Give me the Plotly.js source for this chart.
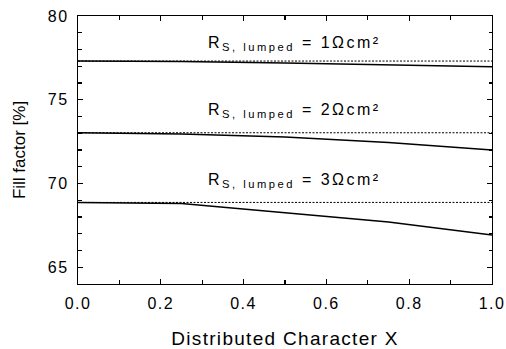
<!DOCTYPE html>
<html>
<head>
<meta charset="utf-8">
<script src="https://cdn.plot.ly/plotly-3.0.1.min.js"></script>
<style>
  html, body { margin: 0; padding: 0; background: #fff; }
  #chart { width: 506px; height: 349px; }
  .xtick text, .ytick text { letter-spacing: 1.5px; }
  .xtitle { letter-spacing: 1.3px; }
</style>
</head>
<body>
<div id="chart"></div>
<script>
// Data
const distributedX = [0, 0.25, 0.5, 0.75, 1.0];
const ffRs1 = [77.31, 77.28, 77.20, 77.10, 76.97];
const ffRs2 = [73.03, 72.95, 72.78, 72.45, 72.00];
const ffRs3 = [68.87, 68.80, 68.25, 67.70, 66.93];
const lumpedX = [0, 1];
const lumpedFF = [77.31, 73.03, 68.87];
const lumpedValues = ['1', '2', '3'];
const xTickVals = [0, 0.2, 0.4, 0.6, 0.8, 1.0];
const xTickText = ['0.0', '0.2', '0.4', '0.6', '0.8', '1.0'];
const yTickVals = [65, 70, 75, 80];

const fontFam = 'Liberation Sans, Arial, sans-serif';

const traces = [];
[ffRs1, ffRs2, ffRs3].forEach((ys) => {
  traces.push({
    x: distributedX, y: ys, type: 'scatter', mode: 'lines',
    line: { color: '#000', width: 1.5 }, showlegend: false, hoverinfo: 'skip'
  });
});
lumpedFF.forEach((v) => {
  traces.push({
    x: lumpedX, y: [v, v], type: 'scatter', mode: 'lines',
    line: { color: '#000', width: 1, dash: '2px,1.5px' }, showlegend: false, hoverinfo: 'skip'
  });
});

const sp = 'letter-spacing:2.5px';
const annY = [78.33, 74.38, 70.2];
const annotations = lumpedValues.map((v, i) => ({
  x: 0.523, y: annY[i], xref: 'x', yref: 'y',
  xanchor: 'center', yanchor: 'middle',
  text: '<span style="' + sp + '">R</span><sub><span style="' + sp + '">S, lumped</span></sub>' +
        '<span style="' + sp + '"> = ' + v + 'Ωcm²</span>',
  showarrow: false,
  font: { family: fontFam, size: 16, color: '#000' }
}));

const axisCommon = {
  showline: true, linecolor: '#000', linewidth: 1.2, mirror: 'allticks',
  ticks: 'inside', tickcolor: '#000', tickwidth: 1.2, ticklen: 5,
  showgrid: false, zeroline: false,
  tickfont: { family: fontFam, size: 16, color: '#000' }
};

const layout = {
  width: 506, height: 349,
  margin: { l: 78, r: 14, t: 16, b: 65 },
  paper_bgcolor: '#fff', plot_bgcolor: '#fff',
  xaxis: Object.assign({}, axisCommon, {
    range: [0, 1], tickvals: xTickVals, ticktext: xTickText,
    ticklabelstandoff: 5,
    minor: { dtick: 0.1, ticks: 'inside', ticklen: 4, tickcolor: '#000', tickwidth: 1.2 },
    title: { text: 'Distributed Character X', font: { family: fontFam, size: 19, color: '#000' }, standoff: 20 }
  }),
  yaxis: Object.assign({}, axisCommon, {
    range: [64, 80], tickvals: yTickVals,
    ticklabelstandoff: 5,
    minor: { dtick: 1, ticks: 'inside', ticklen: 3.5, tickcolor: '#000', tickwidth: 1.2 },
    title: { text: 'Fill factor [%]', font: { family: fontFam, size: 17, color: '#000' }, standoff: 17 }
  }),
  annotations: annotations
};

Plotly.newPlot('chart', traces, layout, { displayModeBar: false, staticPlot: true });
</script>
</body>
</html>
